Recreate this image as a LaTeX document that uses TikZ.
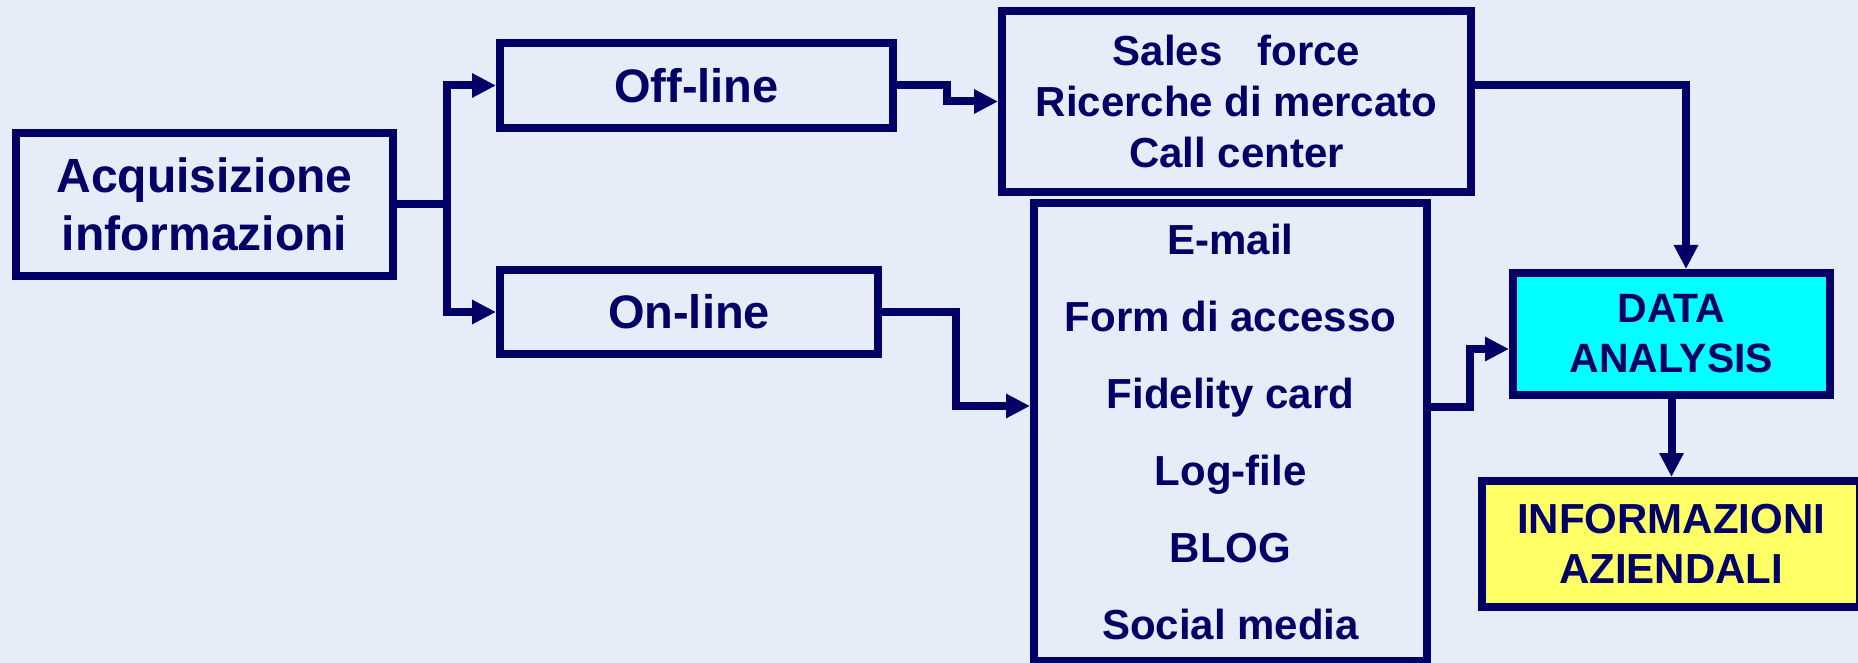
\documentclass[tikz,border=0pt]{standalone}
\usepackage{fontspec}
\setmainfont{Liberation Sans}
\usepackage{tikz}
\usetikzlibrary{shapes, arrows.meta}
\definecolor{navy}{RGB}{0,0,102}
\definecolor{slidebg}{RGB}{230,236,248}
\definecolor{datacyan}{RGB}{0,255,255}
\definecolor{infoyellow}{RGB}{255,255,102}
\tikzstyle{block} = [rectangle, inner sep=0pt, line width=8pt, draw=navy, text=navy, text centered, font=\fontsize{42}{51}\selectfont\bfseries]
\tikzstyle{source} = [block, minimum width=377pt, minimum height=143pt, font=\fontsize{48}{58}\selectfont\bfseries]
\tikzstyle{channel} = [block, font=\fontsize{47}{56}\selectfont\bfseries]
\tikzstyle{media} = [block, font=\fontsize{42}{77}\selectfont\bfseries]
\tikzstyle{analysis} = [block, fill=datacyan, font=\fontsize{41}{50}\selectfont\bfseries]
\tikzstyle{result} = [block, fill=infoyellow, font=\fontsize{42}{50}\selectfont\bfseries]
\tikzstyle{arrow} = [line width=8pt, draw=navy, -{Triangle[length=24pt, width=23pt]}]

\begin{document}
\begin{tikzpicture}[x=1pt, y=-1pt, align=center]
    \fill [slidebg] (0,0) rectangle (1858,663);
    \useasboundingbox (0,0) rectangle (1858,663);

    \node (acq) [source] at (204.5,204.5) {Acquisizione\\informazioni};
    \node (off) [channel, minimum width=393pt, minimum height=85pt] at (696.5,85.5) {Off-line};
    \node (on) [channel, minimum width=378pt, minimum height=84pt] at (689,312) {On-line};
    \node (sales) [block, minimum width=469pt, minimum height=181pt] at (1236.5,101.5) {Sales~~~force\\Ricerche di mercato\\Call center};
    \node (web) [media, minimum width=393pt, minimum height=458pt] at (1230.5,432) {E-mail\\Form di accesso\\Fidelity card\\Log-file\\BLOG\\Social media};
    \node (data) [analysis, minimum width=317pt, minimum height=122pt] at (1671.5,334) {DATA\\ANALYSIS};
    \node (info) [result, minimum width=378pt, minimum height=126pt] at (1671,544) {INFORMAZIONI\\AZIENDALI};

    \draw [line width=8pt, draw=navy] (acq.east) -- (447,204.5) coordinate (split);
    \draw [arrow] (split) |- (off.west);
    \draw [arrow] (split) |- (on.west);
    \draw [arrow] (off.east) -- ++(50,0) |- (sales.west);
    \draw [arrow] (on.east) -- ++(74,0) |- ([yshift=26pt]web.west);
    \draw [arrow] ([yshift=25pt]web.east) -- ++(39,0) |- ([yshift=-15pt]data.west);
    \draw [arrow] ([yshift=16.5pt]sales.east) -| ([xshift=14.5pt]data.north);
    \draw [arrow] (data.south) -- (data.south |- info.north);
\end{tikzpicture}
\end{document}
